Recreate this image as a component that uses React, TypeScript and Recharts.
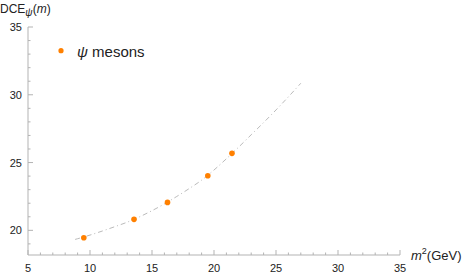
import React from 'react';
import { ComposedChart, Line, Scatter, XAxis, YAxis, Legend } from 'recharts';

// fitted curve
const fitM2 = [8.8, 9, 10, 11, 12, 13, 14, 15, 16, 17, 18, 19, 20, 21, 22, 23, 24, 25, 26, 27];
const fitDCE = [19.33, 19.38, 19.65, 19.95, 20.27, 20.6, 21.0, 21.45, 21.95, 22.5, 23.08, 23.7, 24.45, 25.28, 26.15, 27.05, 27.95, 28.88, 29.85, 30.85];

// psi mesons
const mesonM2 = [9.5, 13.55, 16.25, 19.5, 21.45];
const mesonDCE = [19.45, 20.81, 22.06, 24.03, 25.68];

// ticks
const xTicks = [5, 6, 7, 8, 9, 10, 11, 12, 13, 14, 15, 16, 17, 18, 19, 20, 21, 22, 23, 24, 25, 26, 27, 28, 29, 30, 31, 32, 33, 34, 35];
const xMajor = [5, 10, 15, 20, 25, 30, 35];
const yTicks = [19, 20, 21, 22, 23, 24, 25, 26, 27, 28, 29, 30, 31, 32, 33, 34, 35];
const yMajor = [20, 25, 30, 35];

const fitData = fitM2.map((m, i) => ({ m2: m, dce: fitDCE[i] }));
const mesonData = mesonM2.map((m, i) => ({ m2: m, dce: mesonDCE[i] }));

const FONT = '"Liberation Sans", Arial, Helvetica, sans-serif';
const AXIS_COLOR = '#b3b3b3';
const TEXT_COLOR = '#222';
const ORANGE = '#ff8000';

const XTick = (props: any) => {
  const { x, y, payload } = props;
  const v = payload.value;
  const major = xMajor.includes(v);
  return (
    <g>
      <line x1={x} y1={y} x2={x} y2={y - (major ? 5 : 2.5)} stroke={AXIS_COLOR} strokeWidth={1} />
      {major && (
        <text x={x} y={y + 17} textAnchor="middle" fontSize={11} fontFamily={FONT} fill={TEXT_COLOR}>
          {v}
        </text>
      )}
    </g>
  );
};

const YTick = (props: any) => {
  const { x, y, payload } = props;
  const v = payload.value;
  const major = yMajor.includes(v);
  return (
    <g>
      <line x1={x} y1={y} x2={x + (major ? 5 : 2.5)} y2={y} stroke={AXIS_COLOR} strokeWidth={1} />
      {major && (
        <text x={x - 6} y={y + 4} textAnchor="end" fontSize={11} fontFamily={FONT} fill={TEXT_COLOR}>
          {v}
        </text>
      )}
    </g>
  );
};

const TitleLabel = () => (
  <text x={0} y={13} fontSize={12} fontFamily={FONT} fill={TEXT_COLOR}>
    <tspan>DCE</tspan>
    <tspan fontStyle="italic" fontSize={10} dy={3}>ψ</tspan>
    <tspan dy={-3}>(</tspan>
    <tspan fontStyle="italic">m</tspan>
    <tspan>)</tspan>
  </text>
);

const XLabel = () => (
  <text x={411} y={260} fontSize={13} fontFamily={FONT} fill={TEXT_COLOR}>
    <tspan fontStyle="italic">m</tspan>
    <tspan fontSize={9} dy={-6}>2</tspan>
    <tspan dy={6}>(GeV)</tspan>
  </text>
);

const LegendContent = () => (
  <svg width={110} height={25} style={{ display: 'block' }}>
    <circle cx={11} cy={12.7} r={2.6} fill={ORANGE} />
    <text x={27} y={18.5} fontSize={15} fontFamily={FONT} fill={TEXT_COLOR}>
      <tspan fontStyle="italic">ψ</tspan>
      <tspan> mesons</tspan>
    </text>
  </svg>
);

const Dot = (props: any) => <circle cx={props.cx} cy={props.cy} r={2.8} fill={ORANGE} />;

export default function App() {
  return (
    <div style={{ position: 'absolute', left: 0, top: 0, width: 463, height: 276, background: '#fff' }}>
      <ComposedChart width={463} height={276} margin={{ top: 27, right: 63, left: 0, bottom: 0 }}>
        <XAxis
          type="number"
          dataKey="m2"
          domain={[5, 35]}
          ticks={xTicks}
          interval={0}
          height={21}
          tickSize={0}
          tickMargin={0}
          tickLine={false}
          tick={<XTick />}
          axisLine={{ stroke: AXIS_COLOR }}
          allowDataOverflow
          label={<XLabel />}
        />
        <YAxis
          type="number"
          dataKey="dce"
          domain={[18.18, 35]}
          ticks={yTicks}
          interval={0}
          width={28}
          tickSize={0}
          tickMargin={0}
          tickLine={false}
          tick={<YTick />}
          axisLine={{ stroke: AXIS_COLOR }}
          allowDataOverflow
          label={<TitleLabel />}
        />
        <Legend
          content={<LegendContent />}
          layout="vertical"
          align="center"
          verticalAlign="middle"
          wrapperStyle={{ position: 'absolute', left: 50, top: 38, width: 110, height: 25 }}
        />
        <Line
          data={fitData}
          dataKey="dce"
          type="monotone"
          stroke="#bbbbbb"
          strokeWidth={1}
          strokeDasharray="5 3 1 3"
          dot={false}
          activeDot={false}
          isAnimationActive={false}
          legendType="none"
        />
        <Scatter
          data={mesonData}
          dataKey="dce"
          fill={ORANGE}
          shape={<Dot />}
          isAnimationActive={false}
          name="ψ mesons"
        />
      </ComposedChart>
    </div>
  );
}
